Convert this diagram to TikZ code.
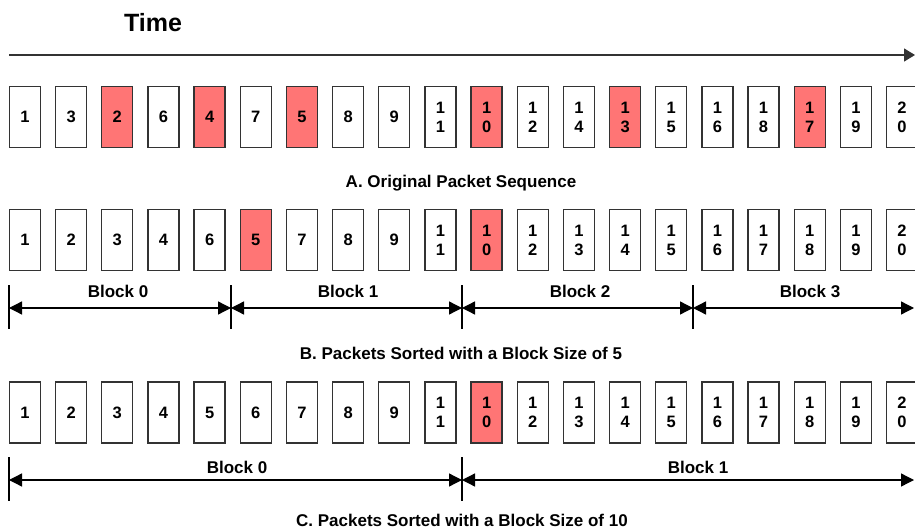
\documentclass[tikz,border=0pt]{standalone}
\usepackage{fontspec}
\setmainfont{Liberation Sans}
\usetikzlibrary{arrows.meta}
\definecolor{pktred}{RGB}{255,117,117}
\definecolor{edge}{RGB}{51,51,51}
\tikzset{
  pkt/.style={draw=edge,line width=1.3pt,fill=white,minimum width=31pt,minimum height=61pt,inner sep=0pt,align=center,font=\fontsize{16.5}{19}\selectfont\bfseries},
  lost/.style={pkt,fill=pktred},
  lbl/.style={anchor=base,inner sep=0pt,font=\fontsize{17}{20}\selectfont\bfseries},
  tick/.style={line width=1.3pt,draw=black},
  blk/.style={line width=1.3pt,{Triangle[length=13pt,width=13pt]}-{Triangle[length=13pt,width=13pt]}},
  timearr/.style={line width=1.3pt,draw=black!80,-{Triangle[length=11pt,width=13pt]}}
}
\begin{document}
\begin{tikzpicture}[x=1pt,y=-1pt]
\useasboundingbox (0,0) rectangle (915,529);
% Time
\node[lbl,font=\fontsize{25}{30}\selectfont\bfseries] (time) at (153,32) {Time};
\coordinate (ts) at (9,55);
\coordinate (te) at (915,55);
\draw[timearr] (ts) -- (te);
% Row A
\foreach \t/\s [count=\i from 0] in {1/pkt,3/pkt,2/lost,6/pkt,4/lost,7/pkt,5/lost,8/pkt,9/pkt,11/pkt,10/lost,12/pkt,14/pkt,13/lost,15/pkt,16/pkt,18/pkt,17/lost,19/pkt,20/pkt} {
  \pgfmathtruncatemacro{\hi}{\t/10}
  \pgfmathtruncatemacro{\lo}{mod(\t,10)}
  \ifnum\t>9
    \node[\s] (a\i) at ({25+\i*46.16},117) {\hi\\\lo};
  \else
    \node[\s] (a\i) at ({25+\i*46.16},117) {\t};
  \fi
}
\node[lbl] (capA) at (461,188) {A. Original Packet Sequence};
% Row B
\foreach \t/\s [count=\i from 0] in {1/pkt,2/pkt,3/pkt,4/pkt,6/pkt,5/lost,7/pkt,8/pkt,9/pkt,11/pkt,10/lost,12/pkt,13/pkt,14/pkt,15/pkt,16/pkt,17/pkt,18/pkt,19/pkt,20/pkt} {
  \pgfmathtruncatemacro{\hi}{\t/10}
  \pgfmathtruncatemacro{\lo}{mod(\t,10)}
  \ifnum\t>9
    \node[\s] (b\i) at ({25+\i*46.16},240) {\hi\\\lo};
  \else
    \node[\s] (b\i) at ({25+\i*46.16},240) {\t};
  \fi
}
\foreach \n/\x in {0/9,1/231,2/462,3/693} {
  \coordinate (bt\n) at (\x,308);
  \draw[tick] (bt\n) ++(0,-23) -- ++(0,44);
}
\coordinate (bt4) at (914,308);
\draw[blk] (bt0) -- (bt1);
\draw[blk] (bt1) -- (bt2);
\draw[blk] (bt2) -- (bt3);
\draw[blk] (bt3) -- (bt4);
\node[lbl] (bl0) at (118,297) {Block 0};
\node[lbl] (bl1) at (348,297) {Block 1};
\node[lbl] (bl2) at (580,297) {Block 2};
\node[lbl] (bl3) at (810,297) {Block 3};
\node[lbl] (capB) at (461,359) {B. Packets Sorted with a Block Size of 5};
% Row C
\foreach \t/\s [count=\i from 0] in {1/pkt,2/pkt,3/pkt,4/pkt,5/pkt,6/pkt,7/pkt,8/pkt,9/pkt,11/pkt,10/lost,12/pkt,13/pkt,14/pkt,15/pkt,16/pkt,17/pkt,18/pkt,19/pkt,20/pkt} {
  \pgfmathtruncatemacro{\hi}{\t/10}
  \pgfmathtruncatemacro{\lo}{mod(\t,10)}
  \ifnum\t>9
    \node[\s] (c\i) at ({25+\i*46.16},412.5) {\hi\\\lo};
  \else
    \node[\s] (c\i) at ({25+\i*46.16},412.5) {\t};
  \fi
}
\foreach \n/\x in {0/9,1/462} {
  \coordinate (ct\n) at (\x,480);
  \draw[tick] (ct\n) ++(0,-23) -- ++(0,44);
}
\coordinate (ct2) at (914,480);
\draw[blk] (ct0) -- (ct1);
\draw[blk] (ct1) -- (ct2);
\node[lbl] (cl0) at (237,473) {Block 0};
\node[lbl] (cl1) at (698,473) {Block 1};
\node[lbl] (capC) at (462,526) {C. Packets Sorted with a Block Size of 10};
\end{tikzpicture}
\end{document}
